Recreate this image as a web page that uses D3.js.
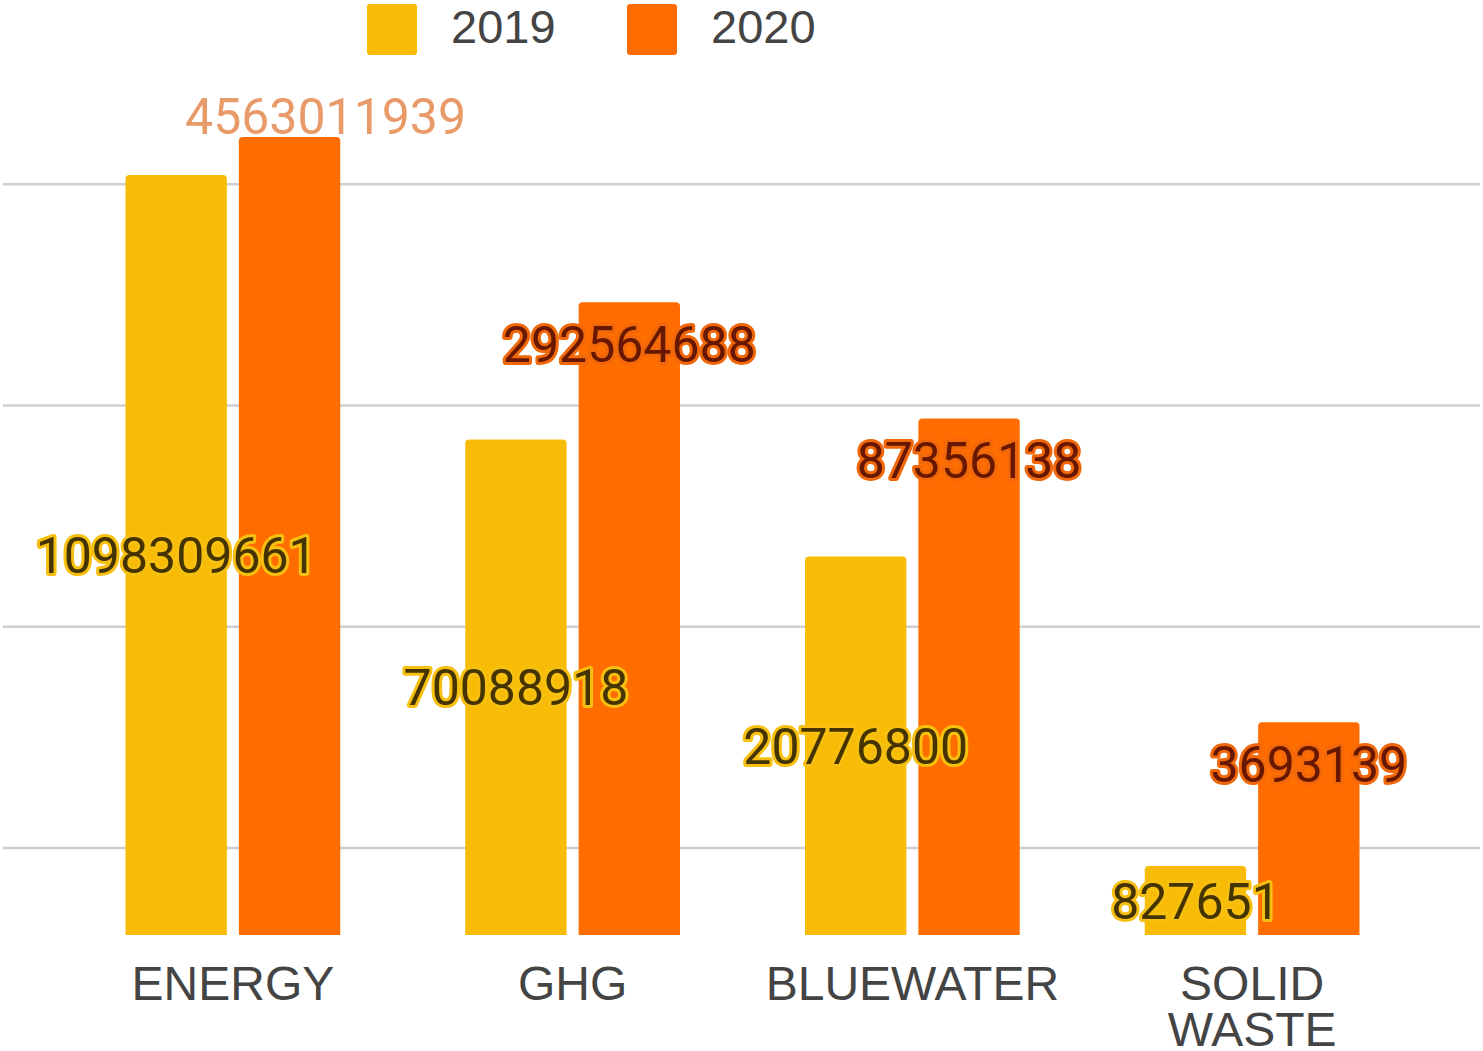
<!DOCTYPE html>
<html>
<head>
<meta charset="utf-8">
<script src="https://cdn.jsdelivr.net/npm/d3@7"></script>
<style>
  html, body { margin: 0; padding: 0; background: #fff; }
  svg { display: block; }
</style>
</head>
<body>
<svg id="chart" width="1483" height="1051"></svg>
<script>
// ---- data ----
const categories = ["ENERGY", "GHG", "BLUEWATER", "SOLID WASTE"];
const seriesNames = ["2019", "2020"];
const values2019 = [1098309661, 70088918, 20776800, 827651];
const values2020 = [4563011939, 292564688, 87356138, 3693139];
const gridTicks = [1e6, 1e7, 1e8, 1e9];
const viewMin = 4.04e5;
const viewMax = 1.633e9;

// ---- styling ----
const colors = { "2019": "#f9bc06", "2020": "#ff6d01" };
const labelFill = { "2019": "#453400", "2020": "#681800" };
const halo = { "2019": "#f7c010", "2020": "#f0680a" };

const svg = d3.select("#chart");

const x0 = d3.scaleBand().domain(categories).range([63, 1422])
  .paddingInner(0.368).paddingOuter(0.184);
const x1 = d3.scaleBand().domain(seriesNames).range([0, x0.bandwidth()]).paddingInner(0.106);
const y = d3.scaleLog().domain([viewMin, viewMax]).range([935, 137]).clamp(true);

// gridlines
svg.append("g").selectAll("line").data(gridTicks).join("line")
  .attr("x1", 3).attr("x2", 1480)
  .attr("y1", d => y(d)).attr("y2", d => y(d))
  .attr("stroke", "#cfcfcf").attr("stroke-width", 2.5);

const rows = categories.map((c, i) => ({ cat: c, vals: [
  { s: "2019", v: values2019[i] }, { s: "2020", v: values2020[i] } ] }));

// bars with rounded top corners
function barPath(x, w, yt, yb, r) {
  return `M${x},${yb}V${yt + r}Q${x},${yt} ${x + r},${yt}H${x + w - r}Q${x + w},${yt} ${x + w},${yt + r}V${yb}Z`;
}
const groups = svg.append("g").selectAll("g").data(rows).join("g")
  .attr("transform", d => `translate(${x0(d.cat)},0)`);
groups.selectAll("path").data(d => d.vals).join("path")
  .attr("d", d => barPath(x1(d.s), x1.bandwidth(), y(d.v), y(viewMin), 4))
  .attr("fill", d => colors[d.s]);

// value labels
const labels = svg.append("g").attr("font-family", "Roboto, sans-serif").attr("font-size", 50);
rows.forEach(r => {
  r.vals.forEach(d => {
    const cx = x0(r.cat) + x1(d.s) + x1.bandwidth() / 2;
    const clipped = d.v > viewMax;
    let cy, fill, stroke, dx = 0;
    if (d.s === "2019") {
      cy = (y(d.v) + y(viewMin)) / 2;
      fill = labelFill[d.s]; stroke = halo[d.s];
    } else if (clipped) {
      cy = y(viewMax) - 21;
      dx = 36;
      fill = "#e89a68"; stroke = "#fff";
    } else {
      cy = y(d.v) + 42;
      fill = labelFill[d.s]; stroke = halo[d.s];
    }
    labels.append("text")
      .attr("x", cx + dx).attr("y", cy).attr("dy", "0.36em")
      .attr("text-anchor", "middle")
      .attr("fill", fill)
      .attr("stroke", stroke).attr("stroke-width", clipped ? 3 : 6)
      .attr("stroke-linejoin", "round")
      .attr("paint-order", "stroke")
      .text(d.v);
  });
});

// x-axis category labels
const xl = svg.append("g").attr("font-family", "'Liberation Sans', Arial, sans-serif")
  .attr("font-size", 48).attr("fill", "#444").attr("text-anchor", "middle");
categories.forEach(c => {
  const cx = x0(c) + x0.bandwidth() / 2;
  const words = c.split(" ");
  words.forEach((w, i) => {
    xl.append("text").attr("x", cx).attr("y", 1000 + i * 46).text(w);
  });
});

// legend
const leg = svg.append("g");
const legendX = [367, 627];
seriesNames.forEach((s, i) => {
  leg.append("rect").attr("x", legendX[i]).attr("y", 4).attr("width", 50).attr("height", 51)
    .attr("rx", 3).attr("fill", colors[s]);
  leg.append("text").attr("x", legendX[i] + 84).attr("y", 43)
    .attr("font-family", "'Liberation Sans', Arial, sans-serif").attr("font-size", 47)
    .attr("fill", "#444").text(s);
});
</script>
</body>
</html>
